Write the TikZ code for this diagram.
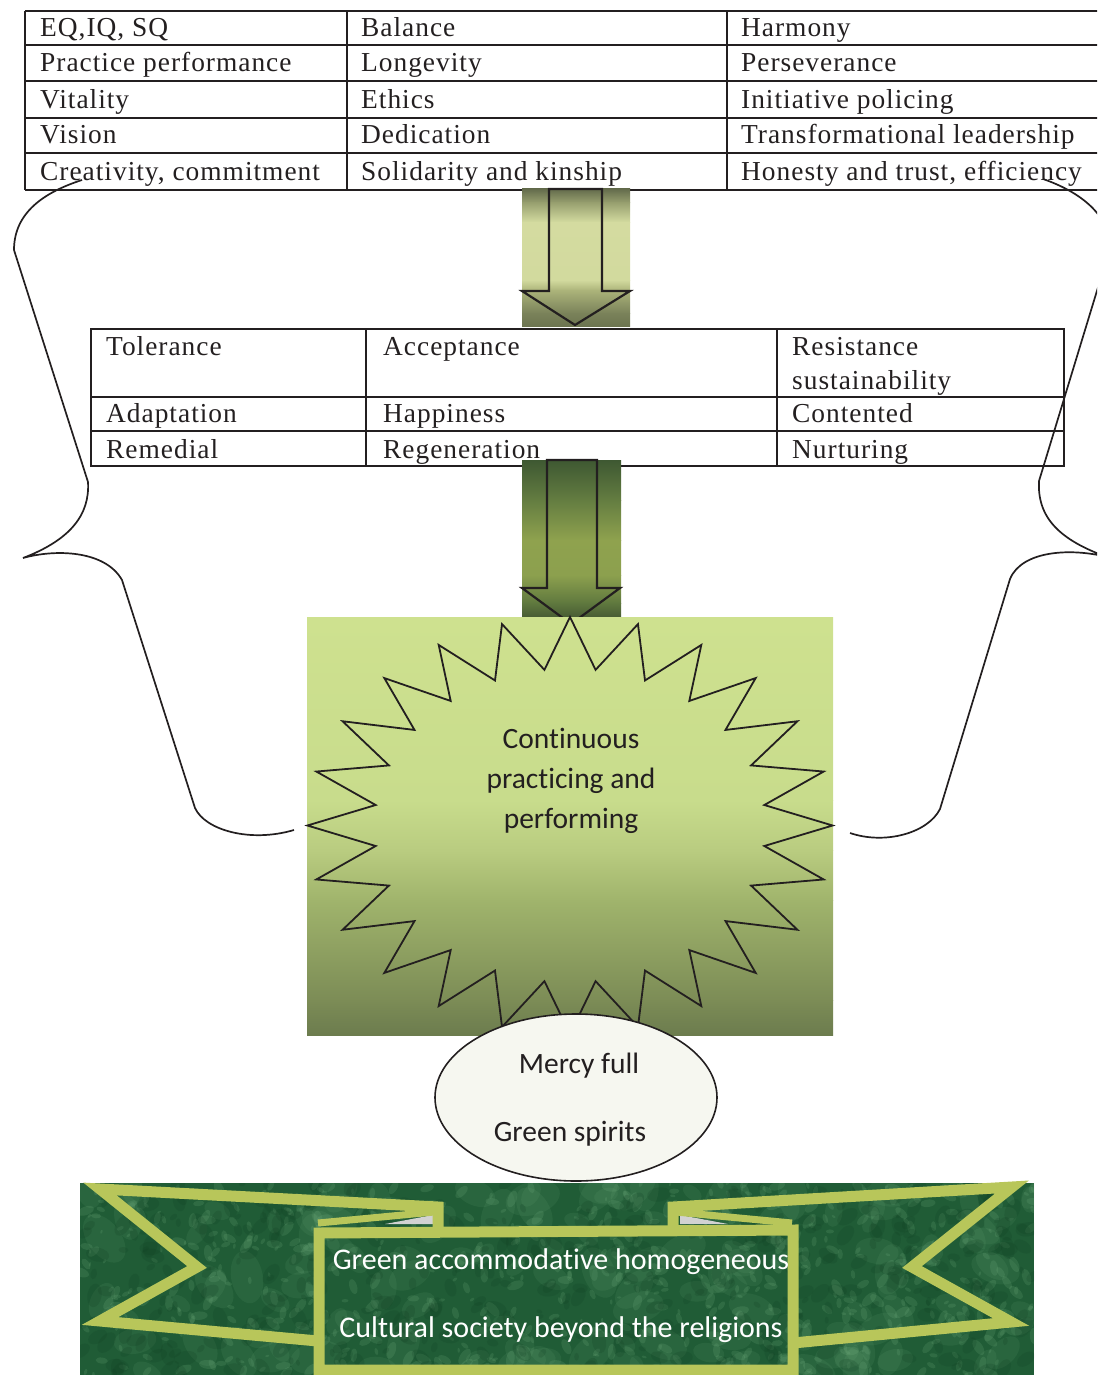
\documentclass[tikz,border=0pt]{standalone}
\usepackage{fontspec}
\setmainfont{Liberation Serif}
\newfontfamily\tabfont[LetterSpace=3.6]{Liberation Serif}
\newfontfamily\calfont[Ligatures=NoCommon]{Carlito}
\usetikzlibrary{shapes.geometric}
\definecolor{lineblk}{RGB}{35,31,32}
\definecolor{gA}{RGB}{206,225,143}
\definecolor{gB}{RGB}{200,220,140}
\definecolor{gC}{RGB}{185,204,128}
\definecolor{gD}{RGB}{160,180,108}
\definecolor{gE}{RGB}{124,140,86}
\definecolor{gF}{RGB}{108,124,78}
\definecolor{aA}{RGB}{100,108,76}
\definecolor{aB}{RGB}{150,158,110}
\definecolor{aC}{RGB}{212,219,160}
\definecolor{aD}{RGB}{210,218,158}
\definecolor{aE}{RGB}{172,180,122}
\definecolor{aF}{RGB}{122,130,90}
\definecolor{aG}{RGB}{108,116,80}
\definecolor{bA}{RGB}{62,88,50}
\definecolor{bB}{RGB}{100,125,65}
\definecolor{bC}{RGB}{143,162,78}
\definecolor{bD}{RGB}{140,160,78}
\definecolor{bE}{RGB}{95,120,62}
\definecolor{bF}{RGB}{72,92,52}
\definecolor{ribbon}{RGB}{184,198,90}
\definecolor{bannerbase}{RGB}{32,92,54}
\definecolor{texlight}{RGB}{125,185,135}
\definecolor{texdark}{RGB}{16,62,34}
\definecolor{foldgray}{RGB}{210,210,210}
\definecolor{ellfill}{RGB}{246,247,240}
\begin{document}
\begin{tikzpicture}[x=1pt,y=-1pt,
  tline/.style={draw=lineblk,line width=2pt},
  tborder/.style={draw=lineblk,line width=2.6pt},
  tabtext/.style={anchor=base west,inner sep=0pt,text=lineblk,font=\tabfont\fontsize{27.4}{32}\selectfont},
  arrowline/.style={draw=lineblk,line width=2.2pt,line join=miter},
  braceline/.style={draw=lineblk,line width=1.7pt},
  starline/.style={draw=lineblk,line width=1.8pt,line join=miter},
  caltext/.style={font=\calfont\fontsize{29.5}{40}\selectfont,text=lineblk,align=center,inner sep=0pt},
  bantext/.style={font=\calfont\fontsize{30}{68}\selectfont,text=white,align=center,inner sep=0pt},
  ribbonband/.style={draw=ribbon,line width=11pt,line join=miter,miter limit=20},
  grad/.style 2 args={top color=#1,bottom color=#2,draw=none},
]
\useasboundingbox (0,0) rectangle (1097,1375);
\clip (0,0) rectangle (1097,1375);

% ---------- top table ----------
\foreach \yy in {45,81,118,153} \draw[tline] (25,\yy) -- (1110,\yy);
\foreach \xx in {347,727} \draw[tline] (\xx,11) -- (\xx,190);
\draw[tborder] (25,11) -- (1110,11);
\draw[tborder] (25,190) -- (1110,190);
\draw[tborder] (25,11) -- (25,190);

\node[tabtext] (a1) at (40,37) {EQ,IQ, SQ};
\node[tabtext] (a2) at (40,72) {Practice performance};
\node[tabtext] (a3) at (40,109) {Vitality};
\node[tabtext] (a4) at (40,144) {Vision};
\node[tabtext] (a5) at (40,181) {Creativity, commitment};
\node[tabtext] (b1) at (361,37) {Balance};
\node[tabtext] (b2) at (361,72) {Longevity};
\node[tabtext] (b3) at (361,109) {Ethics};
\node[tabtext] (b4) at (361,144) {Dedication};
\node[tabtext] (b5) at (361,181) {Solidarity and kinship};
\node[tabtext] (c1) at (741,37) {Harmony};
\node[tabtext] (c2) at (741,72) {Perseverance};
\node[tabtext] (c3) at (741,109) {Initiative policing};
\node[tabtext] (c4) at (741,144) {Transformational leadership};
\node[tabtext] (c5) at (741,181) {Honesty and trust, efficiency};

% ---------- second table ----------
\draw[tline] (91,397) -- (1064,397);
\draw[tline,line width=1.4pt] (91,431) -- (1064,431);
\foreach \xx in {366,777} \draw[tline,line width=1.6pt] (\xx,329) -- (\xx,466);
\draw[tborder] (91,329) rectangle (1064,466);

\node[tabtext] (d1) at (106,355) {Tolerance};
\node[tabtext] (d2) at (106,422) {Adaptation};
\node[tabtext] (d3) at (106,458) {Remedial};
\node[tabtext] (e1) at (383,355) {Acceptance};
\node[tabtext] (e2) at (383,422) {Happiness};
\node[tabtext] (e3) at (383,458) {Regeneration};
\node[tabtext] (f1) at (792,355) {Resistance};
\node[tabtext] (f1b) at (792,389) {sustainability};
\node[tabtext] (f2) at (792,422) {Contented};
\node[tabtext] (f3) at (792,458) {Nurturing};

% ---------- arrow 1 ----------
\shade[grad={aA}{aB}] (522,189) rectangle (630,202.5);
\shade[grad={aB}{aC}] (522,202) rectangle (630,222.5);
\shade[grad={aC}{aD}] (522,222) rectangle (630,280.5);
\shade[grad={aD}{aE}] (522,280) rectangle (630,290.5);
\shade[grad={aE}{aF}] (522,290) rectangle (630,313.5);
\shade[grad={aF}{aG}] (522,313) rectangle (630,326);
\draw[arrowline] (549,189) -- (602,189) -- (602,291) -- (630,291) -- (575,325) -- (522,291) -- (549,291) -- cycle;

% ---------- arrow 2 ----------
\shade[grad={bA}{bB}] (522,460) rectangle (621,500.5);
\shade[grad={bB}{bC}] (522,500) rectangle (621,540.5);
\shade[grad={bC}{bD}] (522,540) rectangle (621,575.5);
\shade[grad={bD}{bE}] (522,575) rectangle (621,603.5);
\shade[grad={bE}{bF}] (522,603) rectangle (621,617);
\draw[arrowline] (547,460) -- (597,460) -- (597,588) -- (620,588) -- (571,624) -- (522,588) -- (547,588) -- cycle;

% ---------- green block with star ----------
\shade[grad={gA}{gB}] (307,617) rectangle (833,800.5);
\shade[grad={gB}{gC}] (307,800) rectangle (833,850.5);
\shade[grad={gC}{gD}] (307,850) rectangle (833,900.5);
\shade[grad={gD}{gE}] (307,900) rectangle (833,1000.5);
\shade[grad={gE}{gF}] (307,1000) rectangle (833,1035);
\draw[starline] (570,617) \foreach \i in {0,...,23}{
   -- ({570+196*cos(97.5+15*\i)},{825.5-157*sin(97.5+15*\i)})
   -- ({570+262.6*cos(105+15*\i)},{825.5-208.5*sin(105+15*\i)}) } -- cycle;
\node[caltext] (star) at (571,781) {Continuous\\practicing and\\performing};

% ---------- ellipse ----------
\node[ellipse,draw=lineblk,line width=1.6pt,fill=ellfill,minimum width=282pt,minimum height=167pt,inner sep=0pt] (mercy) at (576,1097.5) {};
\node[caltext] (mercyA) at (579,1066) {Mercy full};
\node[caltext] (mercyB) at (570,1134) {Green spirits};

% ---------- braces ----------
\draw[braceline] (82,180) .. controls (45,192) and (14,212) .. (14,250) -- (88,482)
   .. controls (90,515) and (70,540) .. (23,558)
   .. controls (55,549) and (105,550) .. (122,580) -- (195,808)
   .. controls (205,830) and (250,843) .. (294,830);
\draw[braceline] (1043,179) .. controls (1075,190) and (1110,212) .. (1110,248) -- (1039,481)
   .. controls (1037,518) and (1060,540) .. (1107,557)
   .. controls (1072,548) and (1022,550) .. (1010,579) -- (940,809)
   .. controls (928,833) and (885,845) .. (850,833);

% ---------- banner ----------
\begin{scope}
  \clip (80,1183) rectangle (1034,1375);
  \fill[bannerbase] (80,1183) rectangle (1034,1375);
  \pgfmathsetseed{17}
  \foreach \i in {1,...,140}{
    \pgfmathsetmacro{\bx}{80+954*rnd}
    \pgfmathsetmacro{\by}{1183+192*rnd}
    \pgfmathsetmacro{\br}{10+18*rnd}
    \pgfmathsetmacro{\ba}{180*rnd}
    \fill[texlight,opacity=0.1,rotate around={\ba:(\bx,\by)}] (\bx,\by) ellipse[x radius=\br,y radius=0.6*\br];
  }
  \foreach \i in {1,...,700}{
    \pgfmathsetmacro{\bx}{80+954*rnd}
    \pgfmathsetmacro{\by}{1183+192*rnd}
    \pgfmathsetmacro{\br}{2+7*rnd}
    \pgfmathsetmacro{\ba}{180*rnd}
    \fill[texlight,opacity=0.17,rotate around={\ba:(\bx,\by)}] (\bx,\by) ellipse[x radius=\br,y radius=0.5*\br];
  }
  \foreach \i in {1,...,450}{
    \pgfmathsetmacro{\bx}{80+954*rnd}
    \pgfmathsetmacro{\by}{1183+192*rnd}
    \pgfmathsetmacro{\br}{3+9*rnd}
    \pgfmathsetmacro{\ba}{180*rnd}
    \fill[texdark,opacity=0.2,rotate around={\ba:(\bx,\by)}] (\bx,\by) ellipse[x radius=\br,y radius=0.6*\br];
  }
\end{scope}
% folds
\fill[foldgray] (385,1224) -- (433,1215) -- (433,1224) -- cycle;
\fill[foldgray] (680,1215) -- (680,1224) -- (728,1224) -- cycle;
\draw[draw=ribbon,line width=7pt] (318,1223) -- (434,1212);
\draw[draw=ribbon,line width=7pt] (676,1212) -- (792,1223);
% ears
\draw[ribbonband] (318,1341) -- (100,1321) -- (197,1267) -- (100,1189) -- (438,1207) -- (438,1229);
\draw[ribbonband] (793,1343) -- (1011,1322) -- (912,1267) -- (1012,1187) -- (673,1207) -- (673,1229);
% centre panel
\draw[ribbonband] (319,1233) -- (793,1230) -- (793,1370) -- (319,1370) -- cycle;
\node[bantext] (bantxt) at (561,1296) {Green accommodative homogeneous\\Cultural society beyond the religions};
\end{tikzpicture}
\end{document}
